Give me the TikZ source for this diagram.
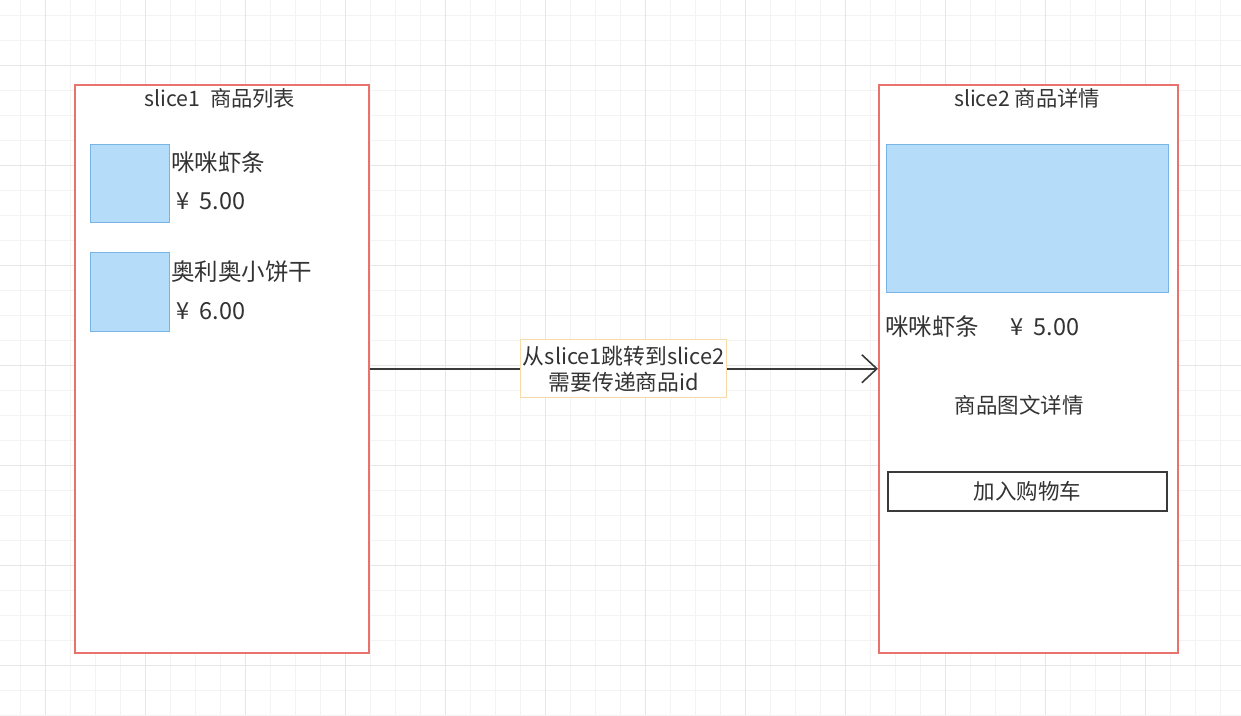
\documentclass[tikz,border=0pt]{standalone}
\usepackage{fontspec}
\setmainfont{Noto Sans CJK SC}
\usetikzlibrary{arrows.meta}
\definecolor{txt}{HTML}{333333}
\definecolor{gridminor}{HTML}{F3F3F3}
\definecolor{gridmajor}{HTML}{E6E6E6}
\definecolor{panelred}{HTML}{E8736C}
\definecolor{bluefill}{HTML}{B5DDFA}
\definecolor{bluedraw}{HTML}{78B4E6}
\definecolor{lblborder}{HTML}{F6DBA6}
\definecolor{arrowcol}{HTML}{3A3A3A}
\tikzset{
  minorgrid/.style={draw=gridminor, line width=1pt},
  majorgrid/.style={draw=gridmajor, line width=1.3pt},
  panel/.style={draw=panelred, line width=1.5pt, fill=white, anchor=north west, inner sep=0pt},
  titletext/.style={text=txt, font=\fontsize{21.3}{25}\selectfont, inner sep=0pt},
  itemtext/.style={text=txt, font=\fontsize{23.5}{27}\selectfont, inner sep=0pt, anchor=west},
  bodytext/.style={text=txt, font=\fontsize{21.5}{25}\selectfont, inner sep=0pt},
  pic/.style={draw=bluedraw, line width=1.3pt, fill=bluefill, anchor=north west, inner sep=0pt},
  btn/.style={draw=arrowcol, line width=1.5pt, fill=white, anchor=north west, inner sep=0pt, text=txt, font=\fontsize{21.5}{25}\selectfont},
  conn/.style={draw=arrowcol, line width=2.3pt, -{Straight Barb[length=15pt, width=28pt, line width=1.6pt]}},
  lbl/.style={draw=lblborder, line width=1.3pt, fill=white, text=txt, align=center, inner sep=0pt,
    minimum width=206pt, minimum height=58pt, font=\fontsize{21.8}{26}\selectfont}
}
\begin{document}
\begin{tikzpicture}[x=1pt,y=-1pt]
\useasboundingbox (0,0) rectangle (1241,715);
\fill[white] (0,0) rectangle (1241,715);
% grid
\foreach \i in {0,...,49} \draw[minorgrid] ({20.5+25*\i},0) -- ++(0,715);
\foreach \i in {0,...,28} \draw[minorgrid] (0,{15.5+25*\i}) -- ++(1241,0);
\foreach \i in {0,...,12} \draw[majorgrid] ({45.5+100*\i},0) -- ++(0,715);
\foreach \i in {0,...,6} \draw[majorgrid] (0,{65.5+100*\i}) -- ++(1241,0);

% panels
\node[panel, minimum width=294pt, minimum height=568pt] (p1) at (74,84) {};
\node[panel, minimum width=299pt, minimum height=568pt] (p2) at (878,84) {};

% left panel content
\node[titletext] (t1) at (220,98) {slice1\ \ 商品列表};
\node[pic, minimum width=79pt, minimum height=78pt] (img1) at (90,144) {};
\node[itemtext] (n1) at (171,163) {咪咪虾条};
\node[itemtext] (pr1) at (176,201) {¥\hspace{0.45em}5.00};
\node[pic, minimum width=79pt, minimum height=79pt] (img2) at (90,252) {};
\node[itemtext] (n2) at (171,272) {奥利奥小饼干};
\node[itemtext] (pr2) at (176,311) {¥\hspace{0.45em}6.00};

% right panel content
\node[titletext] (t2) at (1027,98) {slice2 商品详情};
\node[pic, minimum width=282pt, minimum height=148pt] (img3) at (886,144) {};
\node[itemtext] (n3) at (885,327) {咪咪虾条\hspace{31pt}¥\hspace{0.45em}5.00};
\node[bodytext] (desc) at (1019,405) {商品图文详情};
\node[btn, minimum width=279pt, minimum height=39pt] (cart) at (887,471) {加入购物车};

% connector
\draw[conn] (p1.east) -- node[lbl] (lab) {从slice1跳转到slice2\\需要传递商品id} (p2.west);
\end{tikzpicture}
\end{document}
